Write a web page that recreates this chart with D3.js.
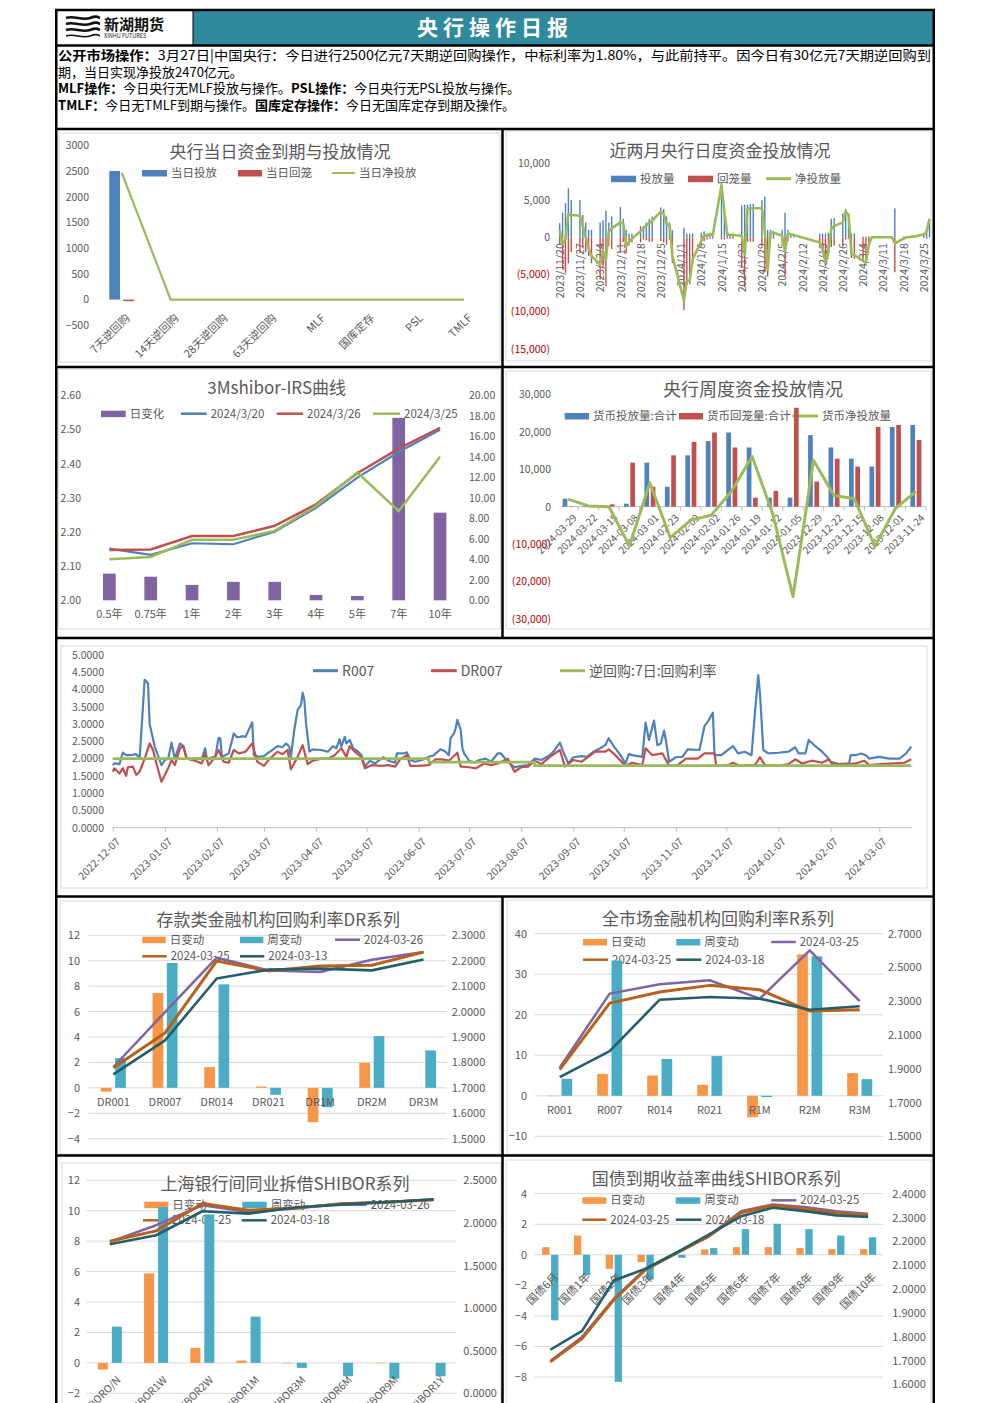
<!DOCTYPE html>
<html>
<head>
<meta charset="utf-8">
<title>央行操作日报</title>
<script src="https://cdn.jsdelivr.net/npm/d3@7/dist/d3.min.js"></script>
<style>
  body { margin: 0; background: #fff; }
  svg { display: block; }
</style>
</head>
<body>
<svg id="page" width="992" height="1403"></svg>
<script>
// ================= data =================

// 央行当日资金到期与投放情况
var opCats = ["7天逆回购", "14天逆回购", "28天逆回购", "63天逆回购", "MLF", "国库定存", "PSL", "TMLF"];
var opInject = [2500, 0, 0, 0, 0, 0, 0, 0];
var opMature = [-30, 0, 0, 0, 0, 0, 0, 0];
var opNet = [2470, 0, 0, 0, 0, 0, 0, 0];
var opTicks = [-500, 0, 500, 1000, 1500, 2000, 2500, 3000];

// 近两月央行日度资金投放情况 (business days)
var dailyDates = [
  "2023-11-20","2023-11-21","2023-11-22","2023-11-23","2023-11-24",
  "2023-11-27","2023-11-28","2023-11-29","2023-11-30","2023-12-01",
  "2023-12-04","2023-12-05","2023-12-06","2023-12-07","2023-12-08",
  "2023-12-11","2023-12-12","2023-12-13","2023-12-14","2023-12-15",
  "2023-12-18","2023-12-19","2023-12-20","2023-12-21","2023-12-22",
  "2023-12-25","2023-12-26","2023-12-27","2023-12-28","2023-12-29",
  "2024-01-02","2024-01-03","2024-01-04","2024-01-05",
  "2024-01-08","2024-01-09","2024-01-10","2024-01-11","2024-01-12",
  "2024-01-15","2024-01-16","2024-01-17","2024-01-18","2024-01-19",
  "2024-01-22","2024-01-23","2024-01-24","2024-01-25","2024-01-26",
  "2024-01-29","2024-01-30","2024-01-31","2024-02-01","2024-02-02",
  "2024-02-05","2024-02-06","2024-02-07","2024-02-08","2024-02-09",
  "2024-02-18","2024-02-19","2024-02-20","2024-02-21","2024-02-22","2024-02-23",
  "2024-02-26","2024-02-27","2024-02-28","2024-02-29","2024-03-01",
  "2024-03-04","2024-03-05","2024-03-06","2024-03-07","2024-03-08",
  "2024-03-11","2024-03-12","2024-03-13","2024-03-14","2024-03-15",
  "2024-03-18","2024-03-19","2024-03-20","2024-03-21","2024-03-22",
  "2024-03-25","2024-03-26","2024-03-27"];
var dailyInject = [
  1900, 3300, 4600, 6600, 5000,
  5000, 3000, 2000, 1000, 1000,
  2000, 2300, 3600, 2000, 2800,
  4100, 2500, 1000, 500, 500,
  1500, 1500, 2000, 2500, 2800,
  4000, 3800, 2800, 2000, 1000,
  1300, 500, 500, 500,
  600, 800, 500, 600, 500,
  7300, 3800, 600, 500, 500,
  4300, 4400, 4400, 4500, 4500,
  5000, 5500, 1000, 1000, 800,
  1000, 3300, 1000, 500, 300,
  500, 500, 500, 600, 2500, 2600,
  3200, 3800, 3200, 500, 500,
  100, 100, 100, 100, 100,
  100, 100, 100, 100, 3900,
  100, 100, 100, 200, 200,
  500, 1000, 2500];
var dailyMature = [
  -900, -4300, -4800, -3500, -2000,
  -2100, -1500, -2000, -2500, -3500,
  -5700, -4200, -6600, -1200, -1600,
  -2100, -600, -2200, -1100, -700,
  -700, -300, -400, -600, -600,
  -500, -700, -1000, -300, -3500,
  -9800, -6400, -6300, -3500,
  -1100, -500, -300, -200, -200,
  -300, -300, -200, -200, -200,
  -4100, -6700, -600, -600, -600,
  -1100, -4700, -5300, -300, -200,
  -800, -5200, -500, -100, 0,
  -1200, -2000, -3900, -2600, -1300, -1100,
  -1200, -300, -200, -2800, -2900,
  -3300, -3500, -1100, -100, -100,
  -100, -100, -100, -100, -4700,
  -300, -100, -100, -100, -100,
  -100, -200, -30];
var dailyNet = [
  1000, -1000, -200, 3100, 3000,
  2900, 1500, 0, -1500, -2500,
  -3700, -1900, -3000, 800, 1200,
  2000, 1900, -1200, -600, -200,
  800, 1200, 1600, 1900, 2200,
  3500, 3100, 1800, 1700, -2500,
  -8500, -5900, -5800, -3000,
  -500, 300, 200, 400, 300,
  7000, 3500, 400, 300, 300,
  200, -2300, 3800, 3900, 3900,
  3900, 800, -4300, 700, 600,
  200, -1900, 500, 400, 300,
  -700, -1500, -3400, -2000, 1200, 1500,
  2000, 3500, 3000, -2300, -2400,
  -3200, -3400, -1000, 0, 0,
  0, 0, 0, 0, -800,
  -200, 0, 0, 100, 100,
  400, 800, 2470];
var dailyTickDates = ["2023-11-20","2023-11-27","2023-12-04","2023-12-11","2023-12-18","2023-12-25",
  "2024-01-01","2024-01-08","2024-01-15","2024-01-22","2024-01-29","2024-02-05","2024-02-12",
  "2024-02-19","2024-02-26","2024-03-04","2024-03-11","2024-03-18","2024-03-25"];
var dailyTicks = [-15000, -10000, -5000, 0, 5000, 10000];

// 3Mshibor-IRS曲线
var irsTenors = ["0.5年", "0.75年", "1年", "2年", "3年", "4年", "5年", "7年", "10年"];
var irsChange = [2.6, 2.3, 1.5, 1.8, 1.8, 0.52, 0.42, 17.8, 8.55];
var irs0320 = [2.151, 2.133, 2.167, 2.164, 2.201, 2.271, 2.359, 2.434, 2.499];
var irs0326 = [2.147, 2.149, 2.188, 2.188, 2.218, 2.281, 2.372, 2.444, 2.505];
var irs0325 = [2.120, 2.127, 2.177, 2.177, 2.203, 2.276, 2.374, 2.261, 2.420];
var irsLeftTicks = [2.0, 2.1, 2.2, 2.3, 2.4, 2.5, 2.6];
var irsRightTicks = [0, 2, 4, 6, 8, 10, 12, 14, 16, 18, 20];

// 央行周度资金投放情况
var weekCats = ["2024-03-29","2024-03-22","2024-03-15","2024-03-08","2024-03-01","2024-02-23",
  "2024-02-09","2024-02-02","2024-01-26","2024-01-19","2024-01-12","2024-01-05",
  "2023-12-29","2023-12-22","2023-12-15","2023-12-08","2023-12-01","2023-11-24"];
var weekInject = [2100, 300, 100, 800, 11750, 5300, 13700, 17500, 19800, 15800, 2400, 2400, 19100, 15800, 12800, 10700, 21300, 21800];
var weekMature = [100, 100, 600, 11750, 5300, 13700, 17300, 19800, 15800, 2400, 4200, 26400, 6700, 12800, 10700, 21300, 21800, 17800];
var weekNet = [2000, 200, 0, -10500, 6400, -8300, -3600, -2300, 4200, 13400, -1800, -24000, 12400, 3000, 2100, -10600, -500, 4000];
var weekTicks = [-30000, -20000, -10000, 0, 10000, 20000, 30000];

// R007 / DR007 / 逆回购:7日:回购利率
var r007 = [
  ["2022-12-07",1.81],["2022-12-08",1.86],["2022-12-11",1.84],["2022-12-13",2.17],["2022-12-15",2.10],
  ["2022-12-18",2.10],["2022-12-21",2.13],["2022-12-23",2.00],["2022-12-25",3.50],["2022-12-26",4.28],
  ["2022-12-28",4.18],["2022-12-29",3.00],["2022-12-30",2.78],["2023-01-01",2.35],["2023-01-05",1.81],
  ["2023-01-07",1.96],["2023-01-09",2.00],["2023-01-11",2.46],["2023-01-13",2.00],["2023-01-16",2.44],
  ["2023-01-18",2.36],["2023-01-20",2.00],["2023-01-29",2.00],["2023-01-31",2.30],["2023-02-01",2.00],
  ["2023-02-06",2.05],["2023-02-08",2.60],["2023-02-09",2.59],["2023-02-10",2.05],["2023-02-14",2.15],
  ["2023-02-17",2.73],["2023-02-19",2.62],["2023-02-21",2.63],["2023-02-22",2.65],["2023-02-24",2.63],
  ["2023-02-28",3.05],["2023-03-01",2.10],["2023-03-04",2.05],["2023-03-07",2.07],["2023-03-09",2.15],
  ["2023-03-12",2.25],["2023-03-15",2.36],["2023-03-18",2.33],["2023-03-20",2.44],["2023-03-22",2.35],
  ["2023-03-23",2.05],["2023-03-25",2.83],["2023-03-27",3.41],["2023-03-29",3.55],["2023-03-30",3.91],
  ["2023-03-31",3.70],["2023-04-01",3.02],["2023-04-03",2.20],["2023-04-05",2.27],["2023-04-10",2.25],
  ["2023-04-14",2.20],["2023-04-17",2.36],["2023-04-19",2.30],["2023-04-21",2.56],["2023-04-22",2.35],
  ["2023-04-24",2.63],["2023-04-25",2.44],["2023-04-27",2.54],["2023-04-29",2.30],["2023-05-02",2.20],
  ["2023-05-04",2.10],["2023-05-06",1.77],["2023-05-09",1.94],["2023-05-12",1.86],["2023-05-17",2.04],
  ["2023-05-20",1.94],["2023-05-24",1.88],["2023-05-25",2.15],["2023-05-29",2.15],["2023-05-31",2.18],
  ["2023-06-02",1.96],["2023-06-05",1.91],["2023-06-09",1.96],["2023-06-13",2.05],["2023-06-16",2.10],
  ["2023-06-20",2.27],["2023-06-23",2.20],["2023-06-25",2.10],["2023-06-26",2.59],["2023-06-28",2.73],
  ["2023-06-29",2.88],["2023-06-30",3.12],["2023-07-02",2.83],["2023-07-03",2.30],["2023-07-04",2.15],
  ["2023-07-07",1.94],["2023-07-10",1.88],["2023-07-13",1.96],["2023-07-17",2.00],["2023-07-20",1.91],
  ["2023-07-24",2.15],["2023-07-26",2.15],["2023-07-30",1.91],["2023-08-03",1.75],["2023-08-07",1.79],
  ["2023-08-11",1.81],["2023-08-15",2.00],["2023-08-19",1.96],["2023-08-24",2.10],["2023-08-27",2.25],
  ["2023-08-30",2.46],["2023-09-01",2.20],["2023-09-04",1.86],["2023-09-07",2.04],["2023-09-12",2.07],
  ["2023-09-15",2.05],["2023-09-19",2.20],["2023-09-23",2.30],["2023-09-26",2.39],["2023-09-28",2.59],
  ["2023-10-01",2.36],["2023-10-05",2.10],["2023-10-08",1.86],["2023-10-10",2.13],["2023-10-12",2.10],
  ["2023-10-18",2.05],["2023-10-20",3.04],["2023-10-22",2.54],["2023-10-25",3.10],["2023-10-27",2.39],
  ["2023-10-29",2.44],["2023-10-31",2.81],["2023-11-01",2.54],["2023-11-03",1.91],["2023-11-07",2.04],
  ["2023-11-11",2.05],["2023-11-14",2.27],["2023-11-21",2.25],["2023-11-24",2.94],["2023-11-26",3.07],
  ["2023-11-29",3.33],["2023-11-30",2.10],["2023-12-04",2.10],["2023-12-08",2.25],["2023-12-11",2.36],
  ["2023-12-14",2.15],["2023-12-18",2.20],["2023-12-22",2.10],["2023-12-24",3.31],["2023-12-26",4.42],
  ["2023-12-27",3.89],["2023-12-29",2.25],["2024-01-01",2.15],["2024-01-07",2.17],["2024-01-13",2.20],
  ["2024-01-17",2.33],["2024-01-19",2.15],["2024-01-23",2.15],["2024-01-25",2.54],["2024-01-29",2.36],
  ["2024-02-02",2.20],["2024-02-05",2.05],["2024-02-07",1.91],["2024-02-12",1.84],["2024-02-18",1.86],
  ["2024-02-19",2.10],["2024-02-22",2.10],["2024-02-25",2.15],["2024-02-28",2.10],["2024-03-01",2.00],
  ["2024-03-07",2.05],["2024-03-13",2.00],["2024-03-19",2.00],["2024-03-23",2.15],["2024-03-26",2.35]];
var dr007 = [
  ["2022-12-07",1.62],["2022-12-08",1.72],["2022-12-11",1.57],["2022-12-13",1.72],["2022-12-15",1.50],
  ["2022-12-16",1.75],["2022-12-19",1.77],["2022-12-21",1.53],["2022-12-23",1.62],["2022-12-26",2.00],
  ["2022-12-29",2.44],["2022-12-31",2.25],["2023-01-02",1.86],["2023-01-05",1.33],["2023-01-09",1.72],
  ["2023-01-11",1.96],["2023-01-13",1.81],["2023-01-16",2.30],["2023-01-18",2.36],["2023-01-20",2.00],
  ["2023-01-25",1.94],["2023-01-29",1.86],["2023-01-31",2.15],["2023-02-02",1.81],["2023-02-06",2.05],
  ["2023-02-08",2.25],["2023-02-11",1.91],["2023-02-14",1.88],["2023-02-17",2.25],["2023-02-20",2.15],
  ["2023-02-24",2.20],["2023-02-28",2.44],["2023-03-03",1.91],["2023-03-07",1.79],["2023-03-10",1.98],
  ["2023-03-15",2.20],["2023-03-18",2.13],["2023-03-21",2.25],["2023-03-23",1.69],["2023-03-27",2.05],
  ["2023-03-30",2.39],["2023-04-02",1.84],["2023-04-05",1.94],["2023-04-10",2.00],["2023-04-14",2.00],
  ["2023-04-18",2.10],["2023-04-22",2.30],["2023-04-25",2.05],["2023-04-27",2.36],["2023-04-30",2.20],
  ["2023-05-04",2.04],["2023-05-06",1.72],["2023-05-10",1.81],["2023-05-16",1.79],["2023-05-20",1.81],
  ["2023-05-24",1.77],["2023-05-27",1.98],["2023-05-31",2.10],["2023-06-02",1.79],["2023-06-07",1.79],
  ["2023-06-13",1.81],["2023-06-17",1.98],["2023-06-21",1.98],["2023-06-25",1.94],["2023-06-30",2.17],
  ["2023-07-02",1.77],["2023-07-07",1.75],["2023-07-11",1.72],["2023-07-16",1.86],["2023-07-20",1.81],
  ["2023-07-24",1.86],["2023-07-30",2.00],["2023-08-03",1.62],["2023-08-07",1.75],["2023-08-11",1.77],
  ["2023-08-15",1.94],["2023-08-19",1.84],["2023-08-24",2.05],["2023-08-30",2.25],["2023-09-02",1.77],
  ["2023-09-07",1.96],["2023-09-12",1.91],["2023-09-20",2.20],["2023-09-26",2.20],["2023-09-28",2.27],
  ["2023-10-02",2.10],["2023-10-08",1.79],["2023-10-12",1.88],["2023-10-18",1.81],["2023-10-20",2.30],
  ["2023-10-24",2.10],["2023-10-30",2.15],["2023-11-03",1.79],["2023-11-08",1.81],["2023-11-13",2.00],
  ["2023-11-20",2.00],["2023-11-24",2.15],["2023-11-30",2.15],["2023-12-01",1.79],["2023-12-08",1.81],
  ["2023-12-11",1.88],["2023-12-15",1.79],["2023-12-20",1.81],["2023-12-24",1.81],["2023-12-27",2.04],
  ["2023-12-30",1.81],["2024-01-07",1.79],["2024-01-13",1.84],["2024-01-17",1.98],["2024-01-21",1.86],
  ["2024-01-27",1.94],["2024-02-02",1.88],["2024-02-06",1.98],["2024-02-08",1.84],["2024-02-18",1.84],
  ["2024-02-22",1.86],["2024-02-27",1.94],["2024-03-01",1.81],["2024-03-08",1.84],["2024-03-16",1.86],
  ["2024-03-22",1.88],["2024-03-26",1.98]];
var repoRate = [["2022-12-07", 2.0], ["2023-06-13", 1.9], ["2023-08-15", 1.8], ["2024-03-26", 1.8]];
var rateTickDates = ["2022-12-07","2023-01-07","2023-02-07","2023-03-07","2023-04-07","2023-05-07",
  "2023-06-07","2023-07-07","2023-08-07","2023-09-07","2023-10-07","2023-11-07","2023-12-07",
  "2024-01-07","2024-02-07","2024-03-07"];
var rateTicks = [0, 0.5, 1, 1.5, 2, 2.5, 3, 3.5, 4, 4.5, 5];

// 存款类金融机构回购利率DR系列
var drCats = ["DR001", "DR007", "DR014", "DR021", "DR1M", "DR2M", "DR3M"];
var drDay = [-0.3, 7.46, 1.63, 0.1, -2.7, 1.97, 0];
var drWeek = [2.34, 9.82, 8.14, -0.55, -1.52, 4.07, 2.94];
var dr0326 = [1.782, 1.998, 2.212, 2.162, 2.156, 2.204, 2.234];
var dr0325 = [1.779, 1.916, 2.199, 2.160, 2.179, 2.182, 2.234];
var dr0313 = [1.753, 1.887, 2.130, 2.165, 2.169, 2.162, 2.205];

// 全市场金融机构回购利率R系列
var rCats = ["R001", "R007", "R014", "R021", "R1M", "R2M", "R3M"];
var rDay = [-0.1, 5.4, 5.0, 2.7, -5.3, 34.9, 5.6];
var rWeek = [4.2, 33.4, 9.1, 9.8, -0.3, 34.4, 4.1];
var rLatest = [1.907, 2.345, 2.400, 2.424, 2.315, 2.601, 2.301];
var r0325 = [1.895, 2.289, 2.355, 2.394, 2.368, 2.242, 2.250];
var r0318 = [1.851, 2.005, 2.309, 2.325, 2.315, 2.250, 2.270];

// 上海银行间同业拆借SHIBOR系列
var shiborCats = ["SHIBORO/N", "SHIBOR1W", "SHIBOR2W", "SHIBOR1M", "SHIBOR3M", "SHIBOR6M", "SHIBOR9M", "SHIBOR1Y"];
var shiborDay = [-0.44, 5.88, 0.99, 0.15, -0.03, 0, -0.03, 0];
var shiborWeek = [2.38, 10.24, 9.76, 3.04, -0.33, -0.88, -1.04, -0.88];
var shibor0326 = [1.777, 1.973, 2.207, 2.129, 2.168, 2.227, 2.246, 2.273];
var shibor0325 = [1.785, 1.906, 2.227, 2.148, 2.176, 2.223, 2.242, 2.273];
var shibor0318 = [1.750, 1.855, 2.137, 2.109, 2.180, 2.215, 2.246, 2.277];

// 国债到期收益率曲线
var bondCats = ["国债6月", "国债1年", "国债2年", "国债3年", "国债4年", "国债5年", "国债6年", "国债7年", "国债8年", "国债9年", "国债10年"];
var bondDay = [0.5, 1.26, -0.92, -0.48, 0, 0.35, 0.5, 0.5, 0.44, 0.37, 0.37];
var bondWeek = [-4.29, -1.35, -8.32, -1.63, -0.2, 0.44, 1.68, 2.03, 1.68, 1.26, 1.15];
var bondLatest = [1.698, 1.799, 1.959, 2.085, 2.155, 2.225, 2.326, 2.355, 2.344, 2.326, 2.316];
var bond0325 = [1.694, 1.792, 1.955, 2.081, 2.152, 2.222, 2.320, 2.351, 2.337, 2.319, 2.309];
var bond0318 = [1.745, 1.824, 2.036, 2.085, 2.155, 2.229, 2.305, 2.341, 2.327, 2.309, 2.302];

// ================= drawing =================
var FONT = '"Noto Sans CJK SC", "Noto Sans", sans-serif';
var GRAY = "#595959";
var col = {
  blue: "#4F81BD", red: "#C0504D", green: "#9BBB59", purple: "#8064A2",
  orange: "#F79646", aqua: "#4BACC6", brown: "#B8611B", teal: "#245E6B"
};
var svg = d3.select("#page").attr("font-family", FONT);
var parse = d3.timeParse("%Y-%m-%d");

function txt(g, s, x, y, size, opt) {
  opt = opt || {};
  return g.append("text")
    .attr("x", x).attr("y", y)
    .attr("dy", "0.35em")
    .attr("text-anchor", opt.anchor || "start")
    .style("font-size", size + "px")
    .style("font-weight", opt.weight || "normal")
    .style("fill", opt.fill || GRAY)
    .text(s);
}
function legRect(g, x, y, w, color, label, size) {
  g.append("rect").attr("x", x).attr("y", y - 3).attr("width", w).attr("height", 6.5).attr("fill", color);
  txt(g, label, x + w + 4, y, size || 11.5);
}
function legLine(g, x, y, w, color, label, size, lw) {
  g.append("line").attr("x1", x).attr("x2", x + w).attr("y1", y).attr("y2", y)
    .attr("stroke", color).attr("stroke-width", lw || 2.5);
  txt(g, label, x + w + 4, y, size || 11.5);
}
function axisL(g, scale, x, ticks, fmt, size, colorFn) {
  var a = g.append("g").attr("transform", "translate(" + x + ",0)")
    .call(d3.axisLeft(scale).tickValues(ticks).tickSize(0).tickPadding(0).tickFormat(fmt));
  a.select(".domain").remove();
  a.attr("font-family", FONT).attr("font-size", size);
  a.selectAll("text").attr("fill", colorFn || GRAY);
  return a;
}
function axisR(g, scale, x, ticks, fmt, size) {
  var a = g.append("g").attr("transform", "translate(" + x + ",0)")
    .call(d3.axisRight(scale).tickValues(ticks).tickSize(0).tickPadding(0).tickFormat(fmt));
  a.select(".domain").remove();
  a.attr("font-family", FONT).attr("font-size", size);
  a.selectAll("text").attr("fill", GRAY);
  return a;
}
// accounting style numbers: (5,000)
function acct(d) {
  return d < 0 ? "(" + d3.format(",")(-d) + ")" : d3.format(",")(d);
}
function negRed(d) { return d < 0 ? "#C00000" : GRAY; }

// ---------- header ----------
var hdr = svg.append("g");
hdr.append("rect").attr("x", 193).attr("y", 11).attr("width", 741).attr("height", 34).attr("fill", "#2E8A9C");
txt(hdr, "央行操作日报", 495, 28, 21, {anchor: "middle", fill: "#fff", weight: "bold"})
  .style("letter-spacing", "5px");
// logo stripes
[18, 24, 30, 36].forEach(function(y, i) {
  hdr.append("path")
    .attr("d", "M66," + y + " C74," + (y - 3) + " 82," + (y + 3) + " 90," + y + " S97," + (y - 1) + " 100," + y)
    .attr("fill", "none").attr("stroke", "#111").attr("stroke-width", i === 3 ? 1.6 : 2.6);
});
txt(hdr, "新湖期货", 104, 25, 15, {fill: "#111", weight: "bold"});
txt(hdr, "XINHU FUTURES", 104, 36, 5.5, {fill: "#111"});

// ---------- info text ----------
var info = svg.append("g");
function infoLine(y, parts, len) {
  var t = info.append("text").attr("x", 58).attr("y", y)
    .style("font-size", "13px").style("fill", "#000");
  parts.forEach(function(p) {
    t.append("tspan").style("font-weight", p[1] ? "bold" : "normal").text(p[0]);
  });
  if (len) t.attr("textLength", len).attr("lengthAdjust", "spacingAndGlyphs");
}
infoLine(59.5, [["公开市场操作：", 1], ["3月27日|中国央行：今日进行2500亿元7天期逆回购操作，中标利率为1.80%，与此前持平。因今日有30亿元7天期逆回购到", 0]], 873);
infoLine(76.5, [["期，当日实现净投放2470亿元。", 0]]);
infoLine(93, [["MLF操作：", 1], ["今日央行无MLF投放与操作。", 0], ["PSL操作：", 1], ["今日央行无PSL投放与操作。", 0]]);
infoLine(109.5, [["TMLF：", 1], ["今日无TMLF到期与操作。", 0], ["国库定存操作：", 1], ["今日无国库定存到期及操作。", 0]]);

// ---------- inner chart frames ----------
[[59, 133, 441, 229], [506, 131, 425, 230], [58.5, 369, 442, 260], [506, 371, 425, 258],
 [61, 646, 866, 242], [60, 901, 440, 253], [507, 900, 424, 254], [62, 1163, 439, 260], [506, 1160, 425, 260]]
  .forEach(function(r) {
    svg.append("rect").attr("x", r[0]).attr("y", r[1]).attr("width", r[2]).attr("height", r[3])
      .attr("fill", "none").attr("stroke", "#D9D9D9").attr("stroke-width", 1);
  });

// ---------- panel 1: 央行当日资金到期与投放情况 ----------
var p1 = svg.append("g");
var x1 = d3.scaleBand().domain(opCats).range([97.25, 488.45]);
var y1 = d3.scaleLinear().domain([-500, 3000]).range([325.3, 145.3]);
var cx1 = function(c) { return x1(c) + x1.bandwidth() / 2; };
axisL(p1, y1, 89, opTicks, d3.format("d"), 10.5);
txt(p1, "央行当日资金到期与投放情况", 280, 152, 17, {anchor: "middle"});
legRect(p1, 142, 173, 25, col.blue, "当日投放");
legRect(p1, 238, 173, 24, col.red, "当日回笼");
legLine(p1, 332, 173, 23, col.green, "当日净投放", 11.5, 2);
p1.selectAll("rect.inj").data(opInject).enter().append("rect").attr("class", "inj")
  .attr("x", function(d, i) { return cx1(opCats[i]) - 12.4; })
  .attr("y", function(d) { return Math.min(y1(d), y1(0)); })
  .attr("width", 10.7)
  .attr("height", function(d) { return Math.abs(y1(d) - y1(0)); })
  .attr("fill", col.blue);
p1.selectAll("rect.mat").data(opMature).enter().append("rect").attr("class", "mat")
  .attr("x", function(d, i) { return cx1(opCats[i]) + 1.6; })
  .attr("y", function(d) { return Math.min(y1(d), y1(0)); })
  .attr("width", 10.7)
  .attr("height", function(d) { return Math.abs(y1(d) - y1(0)); })
  .attr("fill", col.red);
p1.append("path").datum(opNet)
  .attr("fill", "none").attr("stroke", col.green).attr("stroke-width", 2.2)
  .attr("d", d3.line().x(function(d, i) { return cx1(opCats[i]); }).y(function(d) { return y1(d); }));
opCats.forEach(function(c) {
  txt(p1, c, cx1(c) + 6, 316, 11, {anchor: "end"})
    .attr("transform", "rotate(-45," + (cx1(c) + 6) + ",316)");
});

// ---------- panel 2: 近两月央行日度资金投放情况 ----------
var p2 = svg.append("g");
var x2 = d3.scaleTime().domain([parse("2023-11-20"), parse("2024-03-25")]).range([559.7, 923.7]);
var y2 = d3.scaleLinear().domain([-15000, 10000]).range([348.7, 163]);
axisL(p2, y2, 550, dailyTicks, acct, 10.5, negRed);
txt(p2, "近两月央行日度资金投放情况", 720, 151, 17, {anchor: "middle"});
legRect(p2, 611, 178.7, 25, col.blue, "投放量");
legRect(p2, 688, 178.7, 25, col.red, "回笼量");
legLine(p2, 766, 178.7, 25, col.green, "净投放量", 11.5, 3);
var xa2 = p2.append("g").attr("transform", "translate(0," + y2(0) + ")")
  .call(d3.axisBottom(x2).tickValues(dailyTickDates.map(parse)).tickSize(0).tickFormat(d3.timeFormat("%Y/%-m/%-d")));
xa2.select(".domain").remove();
xa2.attr("font-family", FONT).attr("font-size", 10.5);
xa2.selectAll("text").attr("fill", GRAY).attr("y", 0).attr("dy", "0.35em")
  .attr("text-anchor", "end").attr("transform", "translate(0,6) rotate(-90)");
p2.selectAll("rect.inj").data(dailyInject).enter().append("rect").attr("class", "inj")
  .attr("x", function(d, i) { return x2(parse(dailyDates[i])) - 0.7; })
  .attr("y", function(d) { return y2(d); })
  .attr("width", 1.4)
  .attr("height", function(d) { return y2(0) - y2(d); })
  .attr("fill", col.blue);
p2.selectAll("rect.mat").data(dailyMature).enter().append("rect").attr("class", "mat")
  .attr("x", function(d, i) { return x2(parse(dailyDates[i])) - 0.7; })
  .attr("y", y2(0))
  .attr("width", 1.4)
  .attr("height", function(d) { return y2(d) - y2(0); })
  .attr("fill", col.red);
p2.append("path").datum(dailyNet)
  .attr("fill", "none").attr("stroke", col.green).attr("stroke-width", 2.6).attr("stroke-linejoin", "round")
  .attr("d", d3.line().x(function(d, i) { return x2(parse(dailyDates[i])); }).y(function(d) { return y2(d); }));

// ---------- panel 3: 3Mshibor-IRS曲线 ----------
var p3 = svg.append("g");
var x3 = d3.scaleBand().domain(irsTenors).range([88.7, 460.7]);
var cx3 = function(c) { return x3(c) + x3.bandwidth() / 2; };
var y3L = d3.scaleLinear().domain([2.0, 2.6]).range([600.3, 395.3]);
var y3R = d3.scaleLinear().domain([0, 20]).range([600.3, 395.3]);
axisL(p3, y3L, 81, irsLeftTicks, d3.format(".2f"), 10.5);
axisR(p3, y3R, 469, irsRightTicks, d3.format(".2f"), 10.5);
txt(p3, "3Mshibor-IRS曲线", 276.7, 388, 17, {anchor: "middle"});
legRect(p3, 101, 413.7, 24.7, col.purple, "日变化");
legLine(p3, 181, 413.7, 25.7, col.blue, "2024/3/20");
legLine(p3, 276.7, 413.7, 26.3, col.red, "2024/3/26");
legLine(p3, 373, 413.7, 27, col.green, "2024/3/25");
p3.selectAll("rect.chg").data(irsChange).enter().append("rect").attr("class", "chg")
  .attr("x", function(d, i) { return cx3(irsTenors[i]) - 6.35; })
  .attr("y", function(d) { return y3R(d); })
  .attr("width", 12.7)
  .attr("height", function(d) { return y3R(0) - y3R(d); })
  .attr("fill", col.purple);
[[irs0320, col.blue, 2.2], [irs0326, col.red, 2.5], [irs0325, col.green, 2.5]].forEach(function(s) {
  p3.append("path").datum(s[0])
    .attr("fill", "none").attr("stroke", s[1]).attr("stroke-width", s[2])
    .attr("d", d3.line().x(function(d, i) { return cx3(irsTenors[i]); }).y(function(d) { return y3L(d); }));
});
irsTenors.forEach(function(c) { txt(p3, c, cx3(c), 614.5, 11, {anchor: "middle"}); });

// ---------- panel 4: 央行周度资金投放情况 ----------
var p4 = svg.append("g");
var x4 = d3.scaleBand().domain(weekCats).range([557.8, 926]);
var cx4 = function(c) { return x4(c) + x4.bandwidth() / 2; };
var y4 = d3.scaleLinear().domain([-30000, 30000]).range([619, 394.3]);
axisL(p4, y4, 551, weekTicks, acct, 10.5, negRed);
txt(p4, "央行周度资金投放情况", 753, 390, 18, {anchor: "middle"});
legRect(p4, 564.7, 416, 24.3, col.blue, "货币投放量:合计");
legRect(p4, 679, 416, 24, col.red, "货币回笼量:合计");
legLine(p4, 792.3, 416, 25.7, col.green, "货币净投放量", 11.5, 3);
p4.append("line").attr("x1", 561).attr("x2", 926).attr("y1", y4(0)).attr("y2", y4(0))
  .attr("stroke", "#BFBFBF");
weekCats.forEach(function(c) {
  p4.append("line").attr("x1", x4(c) + x4.bandwidth()).attr("x2", x4(c) + x4.bandwidth())
    .attr("y1", y4(0)).attr("y2", y4(0) + 4).attr("stroke", "#BFBFBF");
});
p4.selectAll("rect.inj").data(weekInject).enter().append("rect").attr("class", "inj")
  .attr("x", function(d, i) { return cx4(weekCats[i]) - 5.4; })
  .attr("y", function(d) { return y4(d); })
  .attr("width", 4.7)
  .attr("height", function(d) { return y4(0) - y4(d); })
  .attr("fill", col.blue);
p4.selectAll("rect.mat").data(weekMature).enter().append("rect").attr("class", "mat")
  .attr("x", function(d, i) { return cx4(weekCats[i]) + 0.9; })
  .attr("y", function(d) { return y4(d); })
  .attr("width", 4.7)
  .attr("height", function(d) { return y4(0) - y4(d); })
  .attr("fill", col.red);
weekCats.forEach(function(c) {
  txt(p4, c, cx4(c) + 7, 516, 10, {anchor: "end"})
    .attr("transform", "rotate(-45," + (cx4(c) + 7) + ",516)");
});
p4.append("path").datum(weekNet)
  .attr("fill", "none").attr("stroke", col.green).attr("stroke-width", 3).attr("stroke-linejoin", "round")
  .attr("d", d3.line().x(function(d, i) { return cx4(weekCats[i]); }).y(function(d) { return y4(d); }));

// ---------- panel 5: R007 / DR007 / 逆回购 ----------
var p5 = svg.append("g");
var x5 = d3.scaleTime().domain([parse("2022-12-07"), parse("2024-03-07")]).range([112.7, 879.3]);
var y5 = d3.scaleLinear().domain([0, 5]).range([827.7, 655]);
axisL(p5, y5, 104, rateTicks, d3.format(".4f"), 10.5);
p5.append("line").attr("x1", 112.7).attr("x2", 911.7).attr("y1", y5(0)).attr("y2", y5(0)).attr("stroke", "#BFBFBF");
var xa5 = p5.append("g").attr("transform", "translate(0," + y5(0) + ")")
  .call(d3.axisBottom(x5).tickValues(rateTickDates.map(parse)).tickSize(4).tickSizeOuter(0)
    .tickFormat(d3.timeFormat("%Y-%m-%d")));
xa5.select(".domain").remove();
xa5.attr("font-family", FONT).attr("font-size", 10.5);
xa5.selectAll("line").attr("stroke", "#BFBFBF");
xa5.selectAll("text").attr("fill", GRAY).attr("y", 0).attr("dy", "0.35em")
  .attr("text-anchor", "end").attr("transform", "translate(5,12) rotate(-45)");
legLine(p5, 313, 670.7, 25, col.blue, "R007", 14, 3);
legLine(p5, 431, 670.7, 25.7, col.red, "DR007", 14, 3);
legLine(p5, 560, 670.7, 25, col.green, "逆回购:7日:回购利率", 14, 3);
var line5 = d3.line().x(function(d) { return x5(parse(d[0])); }).y(function(d) { return y5(d[1]); });
p5.append("path").datum(r007).attr("fill", "none").attr("stroke", col.blue).attr("stroke-width", 2.2)
  .attr("stroke-linejoin", "round").attr("d", line5);
p5.append("path").datum(dr007).attr("fill", "none").attr("stroke", col.red).attr("stroke-width", 2.2)
  .attr("stroke-linejoin", "round").attr("d", line5);
p5.append("path").datum(repoRate).attr("fill", "none").attr("stroke", col.green).attr("stroke-width", 2.8)
  .attr("d", line5.curve(d3.curveStepAfter));

// ---------- panels 6-9: bar + line combos ----------
function combo(o) {
  var g = svg.append("g");
  var x = d3.scaleBand().domain(o.cats).range(o.xr);
  var cx = function(c) { return x(c) + x.bandwidth() / 2; };
  var yL = d3.scaleLinear().domain(o.yLd).range(o.yLr);
  var yR = d3.scaleLinear().domain(o.yRd).range(o.yRr);

  // gridlines on the left axis
  g.selectAll("line.grid").data(o.yLt).enter().append("line").attr("class", "grid")
    .attr("x1", o.gx[0]).attr("x2", o.gx[1])
    .attr("y1", function(d) { return yL(d); }).attr("y2", function(d) { return yL(d); })
    .attr("stroke", "#D9D9D9");
  axisL(g, yL, o.lx, o.yLt, d3.format("d"), 11);
  axisR(g, yR, o.rx, o.yRt, d3.format(".4f"), 11);
  txt(g, o.title, o.tx, o.ty, 17, {anchor: "middle"});

  o.leg.forEach(function(l) {
    if (l[0] === "r") legRect(g, l[1], l[2], l[3], l[4], l[5], 11.5);
    else legLine(g, l[1], l[2], l[3], l[4], l[5], 11.5, 2.5);
  });

  g.selectAll("rect.day").data(o.day).enter().append("rect").attr("class", "day")
    .attr("x", function(d, i) { return cx(o.cats[i]) - o.gap - o.bw; })
    .attr("y", function(d) { return Math.min(yL(d), yL(0)); })
    .attr("width", o.bw)
    .attr("height", function(d) { return Math.abs(yL(d) - yL(0)); })
    .attr("fill", col.orange);
  g.selectAll("rect.week").data(o.week).enter().append("rect").attr("class", "week")
    .attr("x", function(d, i) { return cx(o.cats[i]) + o.gap; })
    .attr("y", function(d) { return Math.min(yL(d), yL(0)); })
    .attr("width", o.bw)
    .attr("height", function(d) { return Math.abs(yL(d) - yL(0)); })
    .attr("fill", col.aqua);

  o.cats.forEach(function(c) {
    if (o.rot) {
      var ax = cx(c) + o.rot[0], ay = o.rot[1];
      txt(g, c, ax, ay, o.rot[2] || 11, {anchor: "end"}).attr("transform", "rotate(-45," + ax + "," + ay + ")");
    } else {
      txt(g, c, cx(c), o.ly, 11, {anchor: "middle"});
    }
  });

  o.lines.forEach(function(l) {
    g.append("path").datum(l[0])
      .attr("fill", "none").attr("stroke", l[1]).attr("stroke-width", l[2]).attr("stroke-linejoin", "round")
      .attr("d", d3.line().x(function(d, i) { return cx(o.cats[i]); }).y(function(d) { return yR(d); }));
  });
}

combo({
  cats: drCats, day: drDay, week: drWeek,
  lines: [[dr0326, col.purple, 2.5], [dr0325, col.brown, 3], [dr0313, col.teal, 2.6]],
  xr: [87.5, 449.4], gx: [88.3, 446.7],
  yLd: [-4, 12], yLr: [1138.7, 935.3], yLt: [-4, -2, 0, 2, 4, 6, 8, 10, 12],
  yRd: [1.5, 2.3], yRr: [1138.7, 935.3], yRt: [1.5, 1.6, 1.7, 1.8, 1.9, 2.0, 2.1, 2.2, 2.3],
  lx: 80, rx: 451.7, title: "存款类金融机构回购利率DR系列", tx: 278.3, ty: 920.3,
  bw: 10.7, gap: 1.8, ly: 1102,
  leg: [["r", 142.3, 939.7, 23.4, col.orange, "日变动"], ["r", 240, 939.7, 23.3, col.aqua, "周变动"],
        ["l", 335, 939.7, 25, col.purple, "2024-03-26"], ["l", 142.3, 956.3, 24.4, col.brown, "2024-03-25"],
        ["l", 240, 956.3, 24.3, col.teal, "2024-03-13"]]
});

combo({
  cats: rCats, day: rDay, week: rWeek,
  lines: [[rLatest, col.purple, 2.5], [r0325, col.brown, 3], [r0318, col.teal, 2.6]],
  xr: [534.7, 884.7], gx: [534.7, 883],
  yLd: [-10, 40], yLr: [1136.3, 933.7], yLt: [-10, 0, 10, 20, 30, 40],
  yRd: [1.5, 2.7], yRr: [1136.3, 933.7], yRt: [1.5, 1.7, 1.9, 2.1, 2.3, 2.5, 2.7],
  lx: 527, rx: 888, title: "全市场金融机构回购利率R系列", tx: 718, ty: 918.7,
  bw: 10.7, gap: 1.8, ly: 1110.3,
  leg: [["r", 583, 942, 24, col.orange, "日变动"], ["r", 676.3, 942, 24, col.aqua, "周变动"],
        ["l", 771.3, 942, 24.4, col.purple, "2024-03-25"], ["l", 583, 959.7, 25, col.brown, "2024-03-25"],
        ["l", 676.3, 959.7, 25, col.teal, "2024-03-18"]]
});

combo({
  cats: shiborCats, day: shiborDay, week: shiborWeek,
  lines: [[shibor0326, col.purple, 2.5], [shibor0325, col.brown, 3], [shibor0318, col.teal, 2.6]],
  xr: [86.7, 456.7], gx: [86.7, 456.7],
  yLd: [-2, 12], yLr: [1393.3, 1180.3], yLt: [-2, 0, 2, 4, 6, 8, 10, 12],
  yRd: [0, 2.5], yRr: [1393.3, 1180.3], yRt: [0, 0.5, 1.0, 1.5, 2.0, 2.5],
  lx: 80, rx: 463.3, title: "上海银行间同业拆借SHIBOR系列", tx: 285, ty: 1183.7,
  bw: 10, gap: 2, rot: [9, 1378, 10.5],
  leg: [["r", 144.3, 1204.7, 24, col.orange, "日变动"], ["r", 242.3, 1204.7, 24.4, col.aqua, "周变动"],
        ["l", 341.7, 1204.7, 25, col.purple, "2024-03-26"], ["l", 143, 1220.3, 25, col.brown, "2024-03-25"],
        ["l", 241.7, 1220.3, 25, col.teal, "2024-03-18"]]
});

combo({
  cats: bondCats, day: bondDay, week: bondWeek,
  lines: [[bondLatest, col.purple, 2.5], [bond0325, col.brown, 3], [bond0318, col.teal, 2.6]],
  xr: [534.4, 884], gx: [534.7, 883],
  yLd: [-8, 4], yLr: [1377, 1193.7], yLt: [-8, -6, -4, -2, 0, 2, 4],
  yRd: [1.6, 2.4], yRr: [1384.3, 1193.7], yRt: [1.6, 1.7, 1.8, 1.9, 2.0, 2.1, 2.2, 2.3, 2.4],
  lx: 527, rx: 892.3, title: "国债到期收益率曲线SHIBOR系列", tx: 716.3, ty: 1178.7,
  bw: 7.3, gap: 0.8, rot: [6, 1275, 11],
  leg: [["r", 582.3, 1200.3, 24, col.orange, "日变动"], ["r", 675.7, 1200.3, 24.6, col.aqua, "周变动"],
        ["l", 771.3, 1200.3, 25, col.purple, "2024-03-25"], ["l", 582.3, 1219.7, 24, col.brown, "2024-03-25"],
        ["l", 675.7, 1219.7, 25.7, col.teal, "2024-03-18"]]
});

// ---------- black frame of the report ----------
var frame = svg.append("g").attr("stroke", "#000").attr("stroke-width", 2.5).attr("fill", "none");
frame.append("rect").attr("x", 56.25).attr("y", 10).attr("width", 877.5).attr("height", 1400);
[45.5, 129, 367, 638, 896.5, 1155.5].forEach(function(y) {
  frame.append("line").attr("x1", 56).attr("x2", 934).attr("y1", y).attr("y2", y);
});
frame.append("line").attr("x1", 502.5).attr("x2", 502.5).attr("y1", 129).attr("y2", 638);
frame.append("line").attr("x1", 502.5).attr("x2", 502.5).attr("y1", 896.5).attr("y2", 1403);
frame.append("line").attr("x1", 193).attr("x2", 193).attr("y1", 10).attr("y2", 45.5).attr("stroke-width", 1);
</script>
</body>
</html>
